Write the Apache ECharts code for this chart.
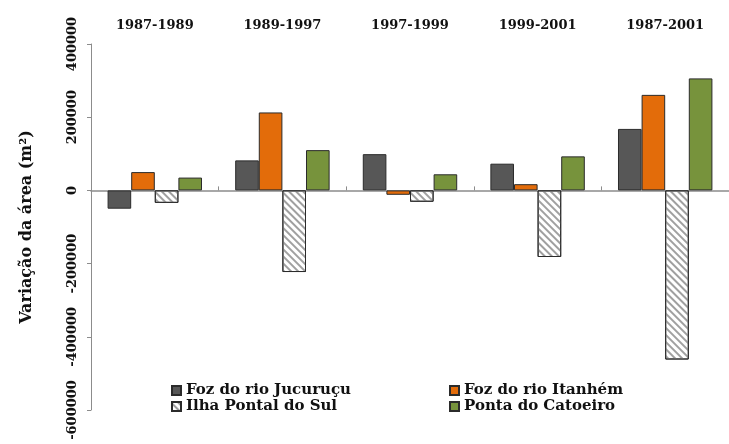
<!DOCTYPE html>
<html><head><meta charset="utf-8">
<script src="https://cdn.jsdelivr.net/npm/echarts@6/dist/echarts.min.js"></script>
<style>html,body{margin:0;padding:0;background:#fff}#c{width:729px;height:444px}</style>
</head><body><div id="c"></div>
<script>
const categories = ['1987-1989', '1989-1997', '1997-1999', '1999-2001', '1987-2001'];
const jucurucu = [-50000, 82000, 99000, 73000, 168000];
const itanhem = [50000, 213000, -12000, 17000, 261000];
const pontalSul = [-34000, -223000, -31000, -182000, -462000];
const catoeiro = [35000, 110000, 44000, 93000, 306000];
const yTicks = { min: -600000, max: 400000, interval: 200000 };

const FONT = 'DejaVu Serif';
const chart = echarts.init(document.getElementById('c'), null, { renderer: 'canvas' });
const border = { borderColor: '#2b2b2b', borderWidth: 1 };
const legendText = { fontFamily: FONT, fontWeight: 'bold', fontSize: 15, color: '#111' };
chart.setOption({
  animation: false,
  backgroundColor: '#fff',
  grid: { left: 91, top: 44, width: 645, height: 366, containLabel: false },
  legend: [
    { left: 166, top: 378, orient: 'vertical', itemGap: 1, itemWidth: 9, itemHeight: 9, icon: 'rect',
      textStyle: legendText, data: ['Foz do rio Jucuruçu', 'Ilha Pontal do Sul'] },
    { left: 444, top: 378, orient: 'vertical', itemGap: 1, itemWidth: 9, itemHeight: 9, icon: 'rect',
      textStyle: legendText, data: ['Foz do rio Itanhém', 'Ponta do Catoeiro'] }
  ],
  xAxis: [
    { type: 'category', data: categories, position: 'bottom',
      axisLine: { onZero: true, lineStyle: { color: '#8c8c8c', width: 1.5 } },
      axisTick: { show: true, inside: true, length: 4, lineStyle: { color: '#8c8c8c' } },
      axisLabel: { show: false } },
    { type: 'category', data: categories, position: 'top',
      axisLine: { show: false }, axisTick: { show: false },
      axisLabel: { margin: 12, fontFamily: FONT, fontWeight: 'bold', fontSize: 13, color: '#111' } }
  ],
  yAxis: {
    type: 'value', min: yTicks.min, max: yTicks.max, interval: yTicks.interval,
    name: 'Variação da área (m²)', nameLocation: 'middle', nameGap: 56,
    nameTextStyle: { fontFamily: FONT, fontWeight: 'bold', fontSize: 16, color: '#111' },
    axisLine: { show: true, lineStyle: { color: '#8c8c8c' } },
    axisTick: { show: true, length: 4, lineStyle: { color: '#8c8c8c' } },
    splitLine: { show: false },
    axisLabel: { rotate: 90, margin: 12, fontFamily: FONT, fontWeight: 'bold', fontSize: 13, color: '#111',
      formatter: v => String(v) }
  },
  series: [
    { name: 'Foz do rio Jucuruçu', type: 'bar', data: jucurucu, barGap: '0%', barCategoryGap: '26%',
      itemStyle: Object.assign({ color: '#575757' }, border) },
    { name: 'Foz do rio Itanhém', type: 'bar', data: itanhem,
      itemStyle: Object.assign({ color: '#e36c0a' }, border) },
    { name: 'Ilha Pontal do Sul', type: 'bar', data: pontalSul,
      itemStyle: Object.assign({ color: '#ffffff',
        decal: { symbol: 'rect', color: '#a0a0a0', dashArrayX: [1, 0], dashArrayY: [2, 3], rotation: Math.PI / 4 } }, border) },
    { name: 'Ponta do Catoeiro', type: 'bar', data: catoeiro,
      itemStyle: Object.assign({ color: '#77933c' }, border) }
  ]
});
</script></body></html>
